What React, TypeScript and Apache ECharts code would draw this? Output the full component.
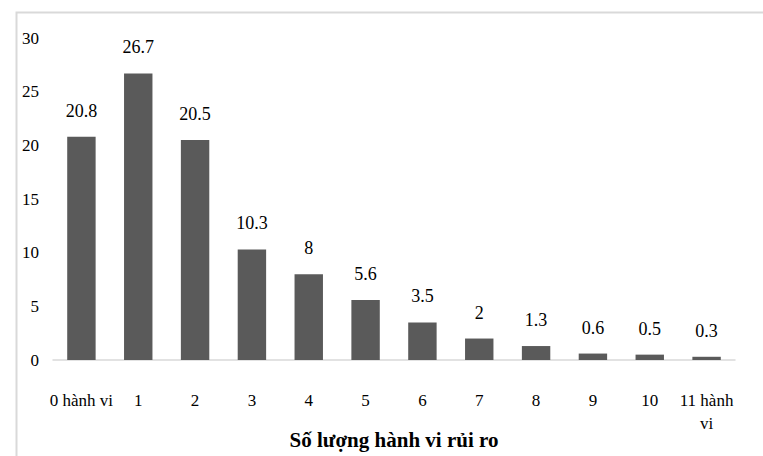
import React, { useEffect, useRef } from "react";
import * as echarts from "echarts";

const categories = ["0 hành vi", "1", "2", "3", "4", "5", "6", "7", "8", "9", "10", "11 hành vi"];
const values = [20.8, 26.7, 20.5, 10.3, 8, 5.6, 3.5, 2, 1.3, 0.6, 0.5, 0.3];
const xTitle = "Số lượng hành vi rủi ro";

const FONT = "'Times New Roman', 'Liberation Serif', 'DejaVu Serif', serif";

export default function App() {
  const ref = useRef<HTMLDivElement>(null);
  useEffect(() => {
    if (!ref.current) return;
    const chart = echarts.init(ref.current, undefined, { renderer: "svg" });
    chart.setOption({
      animation: false,
      backgroundColor: "#ffffff",
      textStyle: { fontFamily: FONT },
      graphic: [
        {
          type: "rect",
          left: 14,
          top: 10,
          shape: { width: 760, height: 460 },
          style: { fill: "none", stroke: "#d9d9d9", lineWidth: 2 },
          silent: true,
        },
      ],
      grid: { left: 53, right: 28, top: 38, bottom: 96, containLabel: false, outerBoundsMode: "none" },
      xAxis: {
        type: "category",
        data: categories,
        name: xTitle,
        nameLocation: "middle",
        nameGap: 69,
        nameMoveOverlap: false,
        nameTextStyle: { fontFamily: FONT, fontSize: 21, fontWeight: "bold", color: "#000" },
        axisLine: { show: true, lineStyle: { color: "#d9d9d9", width: 1.5 } },
        axisTick: { show: false },
        axisLabel: {
          interval: 0,
          margin: 29,
          fontFamily: FONT,
          fontSize: 17,
          color: "#000",
          lineHeight: 23,
          verticalAlign: "top",
          formatter: (v: string) => (v === "11 hành vi" ? "11 hành\nvi" : v),
        },
      },
      yAxis: {
        type: "value",
        min: 0,
        max: 30,
        interval: 5,
        axisLine: { show: false },
        axisTick: { show: false },
        splitLine: { show: false },
        axisLabel: { margin: 14, fontFamily: FONT, fontSize: 17, color: "#000" },
      },
      series: [
        {
          type: "bar",
          data: values,
          barWidth: "50%",
          itemStyle: { color: "#5a5a5a" },
          label: {
            show: true,
            position: "top",
            distance: 17,
            fontFamily: FONT,
            fontSize: 18,
            color: "#000",
          },
        },
      ],
    });
    return () => chart.dispose();
  }, []);
  return (
    <div
      ref={ref}
      style={{ position: "fixed", left: 0, top: 0, width: 763, height: 456 }}
    />
  );
}
